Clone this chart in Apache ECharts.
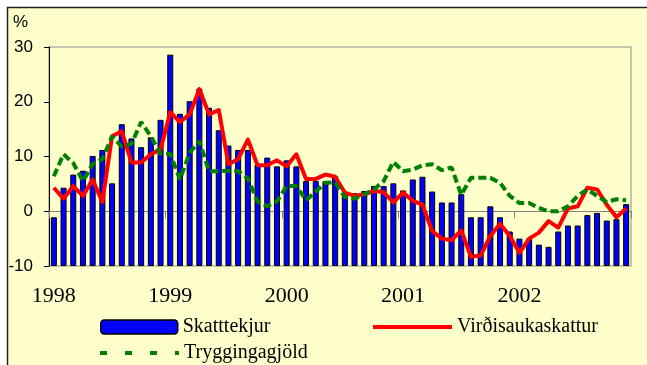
<!DOCTYPE html>
<html>
<head>
<meta charset="utf-8">
<script src="https://cdn.jsdelivr.net/npm/echarts@6/dist/echarts.min.js"></script>
<style>
  html, body { margin: 0; padding: 0; background: #ffffff; }
  #chart { width: 647px; height: 365px; }
</style>
</head>
<body>
<div id="chart"></div>
<script>
// Monthly year-on-year change (%), January 1998 – December 2002
const years = ['1998', '1999', '2000', '2001', '2002'];
const monthNumbers = ['01', '02', '03', '04', '05', '06', '07', '08', '09', '10', '11', '12'];
const months = years.flatMap(y => monthNumbers.map(m => y + '-' + m));

const skatttekjur = [
  -1.1, 4.3, 6.7, 7.4, 10.1, 11.2, 5.1, 15.9, 13.3, 11.7, 13.5, 16.7,
  28.6, 17.8, 20.1, 22.4, 18.9, 14.8, 12.0, 11.2, 11.2, 8.5, 9.8, 8.2,
  9.3, 8.2, 5.5, 5.5, 5.5, 6.4, 3.1, 3.3, 3.7, 4.6, 4.6, 5.1,
  3.8, 5.8, 6.3, 3.6, 1.6, 1.6, 3.1, -1.1, -1.1, 0.9, -1.1, -3.7,
  -5.0, -5.0, -6.1, -6.5, -3.7, -2.6, -2.6, -0.7, -0.3, -1.7, -1.45, 1.3
];

const virdisaukaskattur = [
  4.3, 2.3, 4.6, 2.8, 5.8, 1.7, 13.7, 14.6, 8.9, 8.9, 10.4, 11.3,
  18.1, 16.3, 17.7, 22.3, 17.7, 18.5, 8.6, 9.5, 13.1, 8.4, 8.4, 9.3,
  8.2, 10.4, 5.9, 5.9, 6.7, 6.3, 3.4, 2.8, 3.1, 3.7, 3.5, 1.6,
  3.4, 1.9, 1.2, -3.6, -5.0, -5.3, -3.5, -8.3, -8.1, -4.5, -2.3, -4.5,
  -7.6, -5.0, -3.9, -1.8, -3.0, 0.5, 0.9, 4.3, 4.0, 1.2, -1.1, 0.5
];

const tryggingagjold = [
  6.4, 10.4, 8.8, 5.5, 8.6, 9.5, 13.7, 11.8, 12.3, 16.3, 13.7, 10.5,
  10.5, 5.8, 10.7, 12.8, 7.3, 7.3, 7.4, 7.3, 6.0, 1.8, 0.9, 1.8,
  4.6, 4.6, 2.0, 3.6, 5.2, 5.3, 2.6, 2.3, 3.1, 4.0, 5.5, 9.0,
  7.3, 7.6, 8.4, 8.6, 7.5, 8.0, 3.0, 6.1, 6.1, 6.1, 5.2, 2.8,
  1.5, 1.5, 0.6, 0.0, 0.0, 0.9, 2.8, 4.0, 2.8, 1.7, 2.2, 2.0
];

const yTicks = { min: -10, max: 30, step: 10 };

// Columns rise from the bottom of the value range (-10), so they sit on an
// auxiliary axis with the same scale shifted to start at zero.
const barBase = yTicks.min;
const skatttekjurFromBase = skatttekjur.map(v => v - barBase);

const serifFont = '"Liberation Serif", "Times New Roman", serif';
const sansFont = '"Liberation Sans", Arial, sans-serif';

const legendText = { fontFamily: serifFont, fontSize: 20, color: '#000000' };
// line keys show only the stroke, no point marker
const hiddenMarker = { opacity: 0, color: 'rgba(0,0,0,0)', borderWidth: 0 };

const chart = echarts.init(document.getElementById('chart'), null, { renderer: 'canvas' });

chart.setOption({
  animation: false,
  backgroundColor: '#ffffff',
  graphic: [
    {
      type: 'rect',
      z: -10,
      silent: true,
      shape: { x: 7.5, y: 7.5, width: 700, height: 400 },
      style: { fill: '#FFFFCC', stroke: '#222222', lineWidth: 1.5 }
    },
    {
      type: 'text',
      left: 13,
      top: 14,
      style: { text: '%', font: '17px ' + sansFont, fill: '#000000' }
    }
  ],
  grid: {
    left: 49,
    right: 16,
    top: 47,
    bottom: 99,
    show: true,
    borderColor: '#8c8c8c',
    borderWidth: 1,
    backgroundColor: 'transparent'
  },
  legend: [
    {
      data: [{ name: 'Skatttekjur', itemStyle: { borderWidth: 1.5, borderColor: '#000000' } }],
      left: 100, top: 317, padding: 0,
      itemWidth: 77, itemHeight: 14,
      textStyle: legendText
    },
    {
      data: [{ name: 'Virðisaukaskattur', itemStyle: hiddenMarker, lineStyle: { width: 4 } }],
      left: 371, top: 317, padding: 0,
      itemWidth: 79, itemHeight: 14,
      textStyle: legendText
    },
    {
      data: [{ name: 'Tryggingagjöld', itemStyle: hiddenMarker, lineStyle: { width: 4, type: [7, 18] } }],
      left: 98, top: 343, padding: 0,
      itemWidth: 79, itemHeight: 14,
      textStyle: legendText
    }
  ],
  xAxis: {
    type: 'category',
    data: months,
    boundaryGap: true,
    axisLine: { show: true, lineStyle: { color: '#808080', width: 1 } },
    axisTick: { show: true, interval: 11, length: 7, lineStyle: { color: '#808080' } },
    axisLabel: {
      interval: 11,
      margin: 19,
      color: '#000000',
      fontFamily: serifFont,
      fontSize: 22,
      formatter: v => v.slice(0, 4)
    },
    splitLine: { show: false }
  },
  yAxis: [
    {
      type: 'value',
      min: yTicks.min,
      max: yTicks.max,
      interval: yTicks.step,
      axisLine: { show: true, lineStyle: { color: '#000000', width: 1 } },
      axisTick: { show: true, length: 5, lineStyle: { color: '#000000' } },
      axisLabel: { margin: 16, color: '#000000', fontFamily: sansFont, fontSize: 17 },
      splitLine: { show: false }
    },
    {
      type: 'value',
      min: 0,
      max: yTicks.max - yTicks.min,
      show: false,
      splitLine: { show: false }
    }
  ],
  series: [
    {
      name: 'Skatttekjur',
      type: 'bar',
      yAxisIndex: 1,
      data: skatttekjurFromBase,
      barWidth: 6,
      itemStyle: { color: '#0000FF', borderColor: '#000000', borderWidth: 1 }
    },
    {
      name: 'Virðisaukaskattur',
      type: 'line',
      yAxisIndex: 0,
      data: virdisaukaskattur,
      symbol: 'none',
      lineStyle: { color: '#FF0000', width: 4, join: 'round' },
      itemStyle: { color: '#FF0000' }
    },
    {
      name: 'Tryggingagjöld',
      type: 'line',
      yAxisIndex: 0,
      data: tryggingagjold,
      symbol: 'none',
      lineStyle: { color: '#008000', width: 4, type: [8, 4] },
      itemStyle: { color: '#008000' }
    }
  ]
});
</script>
</body>
</html>
